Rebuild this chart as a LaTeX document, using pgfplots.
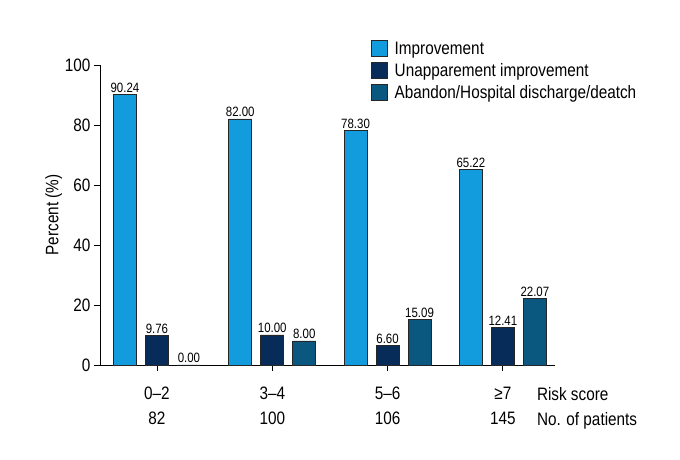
\documentclass[border=0pt]{standalone}
\usepackage{fontspec}
\setmainfont{Liberation Sans}[FakeStretch=0.85]
\usepackage{pgfplots}
\pgfplotsset{compat=1.18}
\definecolor{cImp}{RGB}{18,156,222}
\definecolor{cUnap}{RGB}{8,44,90}
\definecolor{cAb}{RGB}{10,88,128}
\begin{document}
\begin{tikzpicture}
\path[use as bounding box] (-100pt,-95pt) rectangle (580pt,365pt);
\begin{axis}[
  at={(0pt,0pt)}, anchor=south west,
  scale only axis, width=455pt, height=300pt,
  clip=false,
  font=\fontsize{18}{21}\selectfont,
  /pgf/number format/assume math mode=true,
  ybar=9pt, bar width=23pt,
  xmin=-0.494, xmax=3.452, ymin=0, ymax=100,
  axis x line*=bottom, axis y line*=left,
  axis line style={black, line width=0.8pt},
  tick align=outside, major tick length=6pt,
  tick style={black, line width=0.8pt},
  xtick={0,1,2,3},
  xticklabels={\strut0--2\\82, \strut3--4\\100, \strut5--6\\106, \strut≥7\\145},
  xticklabel style={align=center, font=\fontsize{18}{25}\selectfont, yshift=-7pt},
  ytick={0,20,40,60,80,100},
  ylabel={Percent (\%)},
  ylabel style={yshift=-4pt},
  nodes near coords,
  nodes near coords style={font=\fontsize{13.5}{15}\selectfont, inner sep=1.5pt, /pgf/number format/fixed, /pgf/number format/fixed zerofill, /pgf/number format/precision=2, /pgf/number format/assume math mode=true},
  legend style={at={(rel axis cs:0.595,1.085)}, anchor=north west, draw=none, fill=none, inner sep=0pt, row sep=3.5pt, column sep=5pt, font=\fontsize{18}{21}\selectfont},
  legend cell align=left,
  legend image code/.code={\draw[#1, draw=black!85, line width=0.8pt] (0pt,-8pt) rectangle (16pt,8pt);},
]
\addplot[fill=cImp, draw=black!85, line width=0.8pt] coordinates {(0,90.24) (1,82.00) (2,78.30) (3,65.22)};
\addplot[fill=cUnap, draw=black!85, line width=0.8pt] coordinates {(0,9.76) (1,10.00) (2,6.60) (3,12.41)};
\addplot[fill=cAb, draw=black!85, line width=0.8pt] coordinates {(0,0.00) (1,8.00) (2,15.09) (3,22.07)};
\legend{Improvement, Unapparement improvement, Abandon/Hospital discharge/deatch}
\node[anchor=north west, align=left, font=\fontsize{18}{25}\selectfont, inner sep=0pt] at (rel axis cs:0.96,0) [yshift=-17.5pt] {\strut Risk score\\No. of patients};
\end{axis}
\end{tikzpicture}
\end{document}
